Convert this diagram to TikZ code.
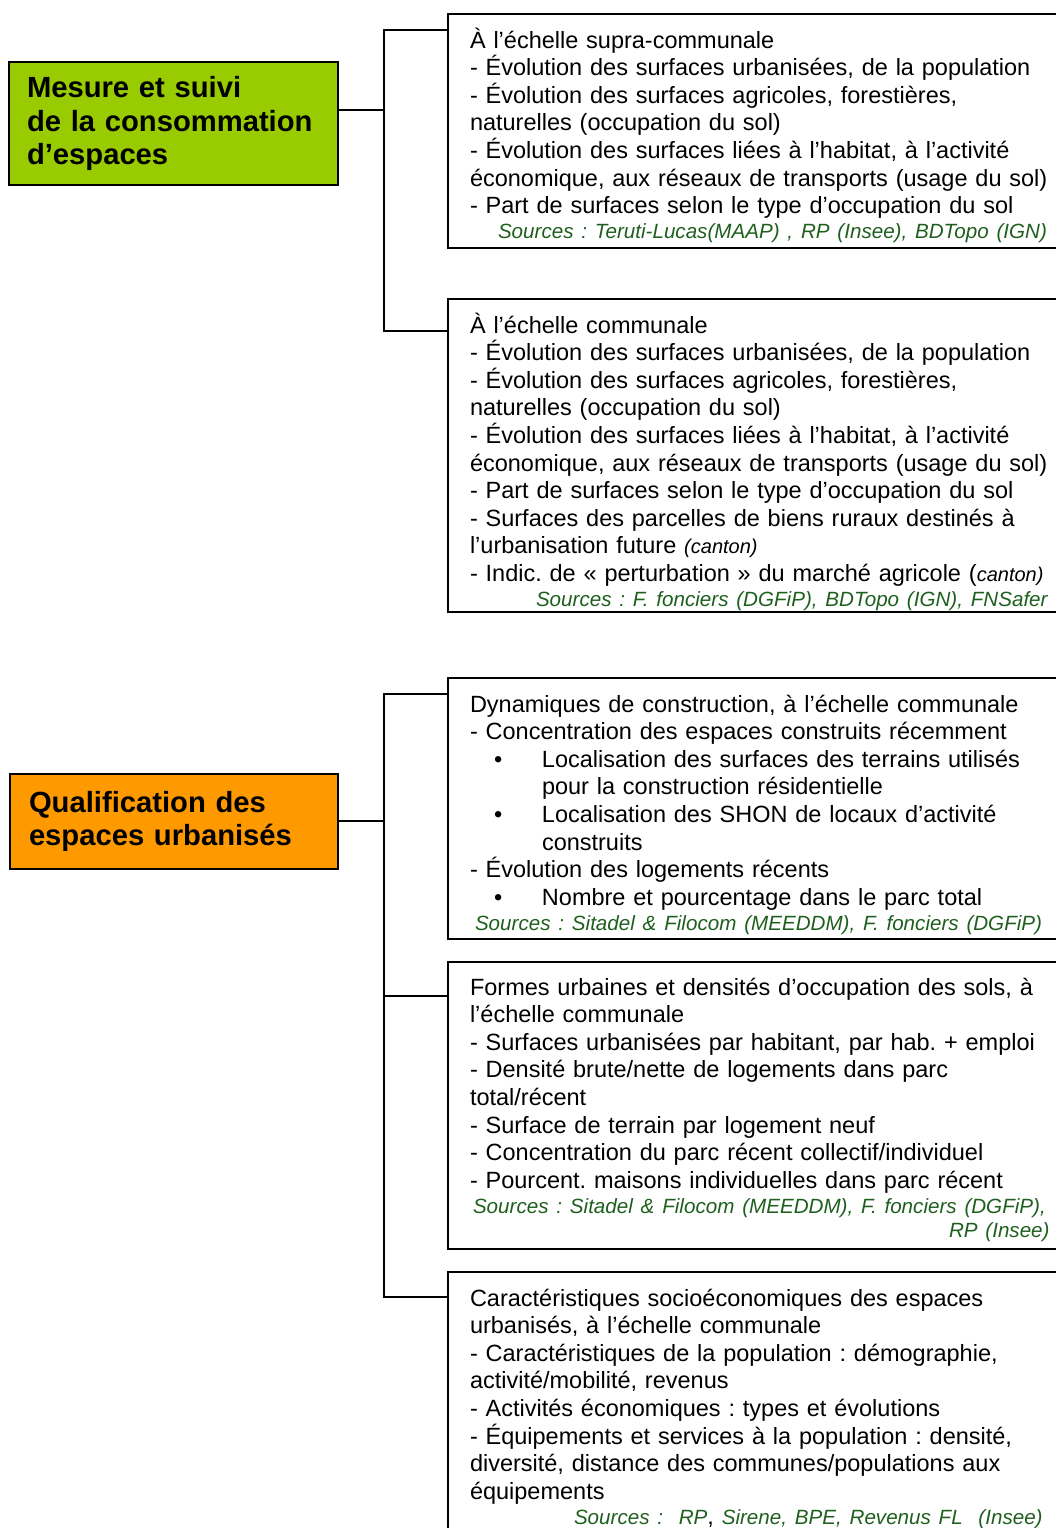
\documentclass[tikz,border=0pt]{standalone}
\usepackage{fontspec}
\setmainfont{Liberation Sans}
\usetikzlibrary{positioning,calc}
\definecolor{mesuregreen}{RGB}{153,204,0}
\definecolor{qualiforange}{RGB}{255,153,0}
\definecolor{srcgreen}{RGB}{30,95,30}
\newcommand{\src}[1]{{\fontsize{10.3}{12.6}\selectfont\itshape\color{srcgreen}#1}}
\newcommand{\canton}[1]{{\fontsize{10}{12}\selectfont\itshape #1}}
\newcommand{\puce}{\hspace*{12pt}\makebox[24pt][l]{\textbullet}}
\tikzset{
    titlebox/.style={draw, line width=1pt, anchor=north west, align=left,
        font=\fontsize{14.6}{16.75}\selectfont\bfseries, inner ysep=0pt},
    infobox/.style={draw, line width=1pt, anchor=north west, align=left,
        font=\fontsize{11.75}{13.8}\selectfont\frenchspacing,
        text width=320pt, inner xsep=11pt, inner ysep=0pt, text height=17pt},
    link/.style={line width=1pt}
}
\begin{document}
\begin{tikzpicture}[x=0.5pt,y=-0.5pt]
    \useasboundingbox (0,0) rectangle (1056,1528);
    \clip (0,0) rectangle (1056,1528);
    % mesure et suivi
    \node[titlebox, fill=mesuregreen, text width=146.5pt, inner xsep=9pt, minimum height=61.5pt] (mesure) at (8,61)
        {Mesure et suivi\\de la consommation\\d’espaces};
    \node[infobox, text depth=100pt] (supra) at (447,13)
        {À l’échelle supra-communale\\
        - Évolution des surfaces urbanisées, de la population\\
        - Évolution des surfaces agricoles, forestières,\\
        naturelles (occupation du sol)\\
        - Évolution des surfaces liées à l’habitat, à l’activité\\
        économique, aux réseaux de transports (usage du sol)\\
        - Part de surfaces selon le type d’occupation du sol\\[-1.2pt]
        \hspace*{14pt}\src{Sources : Teruti-Lucas(MAAP) , RP (Insee), BDTopo (IGN)}};
    \node[infobox, text depth=139.5pt] (communale) at (447,298)
        {À l’échelle communale\\
        - Évolution des surfaces urbanisées, de la population\\
        - Évolution des surfaces agricoles, forestières,\\
        naturelles (occupation du sol)\\
        - Évolution des surfaces liées à l’habitat, à l’activité\\
        économique, aux réseaux de transports (usage du sol)\\
        - Part de surfaces selon le type d’occupation du sol\\
        - Surfaces des parcelles de biens ruraux destinés à\\
        l’urbanisation future \canton{(canton)}\\
        - Indic. de « perturbation » du marché agricole (\canton{canton)}\\[-1.2pt]
        \hspace*{33pt}\src{Sources : F. fonciers (DGFiP), BDTopo (IGN), FNSafer}};
    \coordinate (busA) at (384,110);
    \draw[link] (mesure.east |- busA) -- (busA);
    \draw[link] ($(supra.north west)+(0,17)$) -| (busA) |- ($(communale.north west)+(0,33)$);

    % qualification
    \node[titlebox, fill=qualiforange, text width=145pt, inner xsep=9.5pt, minimum height=47.5pt] (qualif) at (9,773)
        {Qualification des\\espaces urbanisés};
    \node[infobox, text depth=113.5pt] (dynamiques) at (447,677)
        {Dynamiques de construction, à l’échelle communale\\
        - Concentration des espaces construits récemment\\
        \puce Localisation des surfaces des terrains utilisés\\
        \hspace*{36pt}pour la construction résidentielle\\
        \puce Localisation des SHON de locaux d’activité\\
        \hspace*{36pt}construits\\
        - Évolution des logements récents\\
        \puce Nombre et pourcentage dans le parc total\\[-1.2pt]
        \hspace*{2.5pt}\src{Sources : Sitadel \& Filocom (MEEDDM), F. fonciers (DGFiP)}};
    \node[infobox, text height=16.5pt, text depth=127pt] (formes) at (447,961)
        {Formes urbaines et densités d’occupation des sols, à\\
        l’échelle communale\\
        - Surfaces urbanisées par habitant, par hab. + emploi\\
        - Densité brute/nette de logements dans parc\\
        total/récent\\
        - Surface de terrain par logement neuf\\
        - Concentration du parc récent collectif/individuel\\
        - Pourcent. maisons individuelles dans parc récent\\[-1.2pt]
        \hspace*{1.5pt}\src{Sources : Sitadel \& Filocom (MEEDDM), F. fonciers (DGFiP),}\\[-2pt]
        \hspace*{239.5pt}\src{RP (Insee)}};
    \node[infobox, text depth=130pt] (caracteristiques) at (447,1271)
        {Caractéristiques socioéconomiques des espaces\\
        urbanisés, à l’échelle communale\\
        - Caractéristiques de la population : démographie,\\
        activité/mobilité, revenus\\
        - Activités économiques : types et évolutions\\
        - Équipements et services à la population : densité,\\
        diversité, distance des communes/populations aux\\
        équipements\\[-1.2pt]
        \hspace*{52pt}\src{Sources :~~RP}, \src{Sirene, BPE, Revenus FL~~(Insee)}};
    \coordinate (busB) at (384,821);
    \draw[link] (qualif.east |- busB) -- (busB);
    \draw[link] ($(dynamiques.north west)+(0,17)$) -| (busB) |- ($(caracteristiques.north west)+(0,26)$);
    \draw[link] ($(formes.north west)+(0,35)$) -| (busB);
\end{tikzpicture}
\end{document}
